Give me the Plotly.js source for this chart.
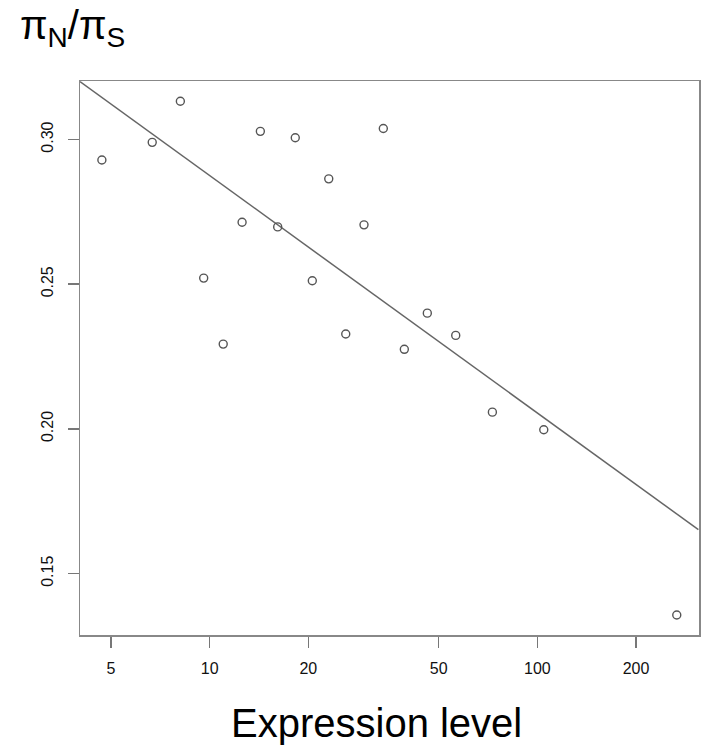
<!DOCTYPE html>
<html>
<head>
<meta charset="utf-8">
<script src="https://cdn.plot.ly/plotly-3.0.1.min.js"></script>
<style>
  html, body { margin: 0; padding: 0; background: #fff; }
  #chart { width: 701px; height: 747px; }
</style>
</head>
<body>
<div id="chart"></div>
<script>
// Expression level (x, log scale) and piN/piS (y) for each point
const expressionLevel = [4.69, 6.68, 8.14, 9.59, 11.0, 12.56, 14.28, 16.13, 18.25, 20.57,
                         23.09, 26.02, 29.58, 33.88, 39.27, 46.15, 56.35, 72.9, 104.6, 266.3];
const piRatio = [0.2929, 0.2990, 0.3132, 0.2521, 0.2293, 0.2714, 0.3028, 0.2698, 0.3006, 0.2512,
                 0.2864, 0.2328, 0.2705, 0.3038, 0.2275, 0.2400, 0.2323, 0.2058, 0.1997, 0.1357];
// Regression line endpoints
const fitX = [4.02, 310];
const fitY = [0.3200, 0.1652];
// Tick labels
const xTickVals = [5, 10, 20, 50, 100, 200];
const xTickText = ['5', '10', '20', '50', '100', '200'];
const yTickVals = [0.15, 0.20, 0.25, 0.30];
const yTickText = ['0.15', '0.20', '0.25', '0.30'];

const font = '"Liberation Sans", Arial, Helvetica, sans-serif';

const traces = [
  {
    x: fitX, y: fitY, type: 'scatter', mode: 'lines',
    line: { color: '#666', width: 1.5 },
    hoverinfo: 'skip', showlegend: false
  },
  {
    x: expressionLevel, y: piRatio, type: 'scatter', mode: 'markers',
    marker: { symbol: 'circle-open', size: 8, color: '#555', line: { width: 1.4 } },
    showlegend: false
  }
];

const axisCommon = {
  showline: true, mirror: true, linecolor: '#888', linewidth: 1.5,
  ticks: 'outside', ticklen: 11, tickwidth: 1.5, tickcolor: '#777',
  showgrid: false, zeroline: false,
  tickfont: { family: font, size: 16, color: '#111' }
};

const layout = {
  width: 701, height: 747,
  margin: { l: 80, r: 2, t: 81, b: 112, pad: 0, autoexpand: false },
  paper_bgcolor: '#fff', plot_bgcolor: '#fff',
  font: { family: font },
  xaxis: Object.assign({}, axisCommon, {
    type: 'log', range: [0.6044, 2.4932],
    tickmode: 'array', tickvals: xTickVals, ticktext: xTickText,
    ticklabelstandoff: 7
  }),
  yaxis: Object.assign({}, axisCommon, {
    range: [0.1288, 0.3202],
    tickmode: 'array', tickvals: yTickVals, ticktext: yTickText,
    tickangle: -90, ticklabelstandoff: 8
  }),
  annotations: [
    {
      text: 'π<sub>N</sub>/π<sub>S</sub>',
      xref: 'paper', yref: 'paper',
      x: (18 - 80) / 619, y: (635 - 28) / 554,
      xanchor: 'left', yanchor: 'middle', showarrow: false,
      font: { family: font, size: 40, color: '#000' }
    },
    {
      text: 'Expression level',
      xref: 'paper', yref: 'paper',
      x: (376.5 - 80) / 619, y: (635 - 723) / 554,
      xanchor: 'center', yanchor: 'middle', showarrow: false,
      font: { family: font, size: 40, color: '#000' }
    }
  ]
};

Plotly.newPlot('chart', traces, layout, { displayModeBar: false, staticPlot: true });
</script>
</body>
</html>
